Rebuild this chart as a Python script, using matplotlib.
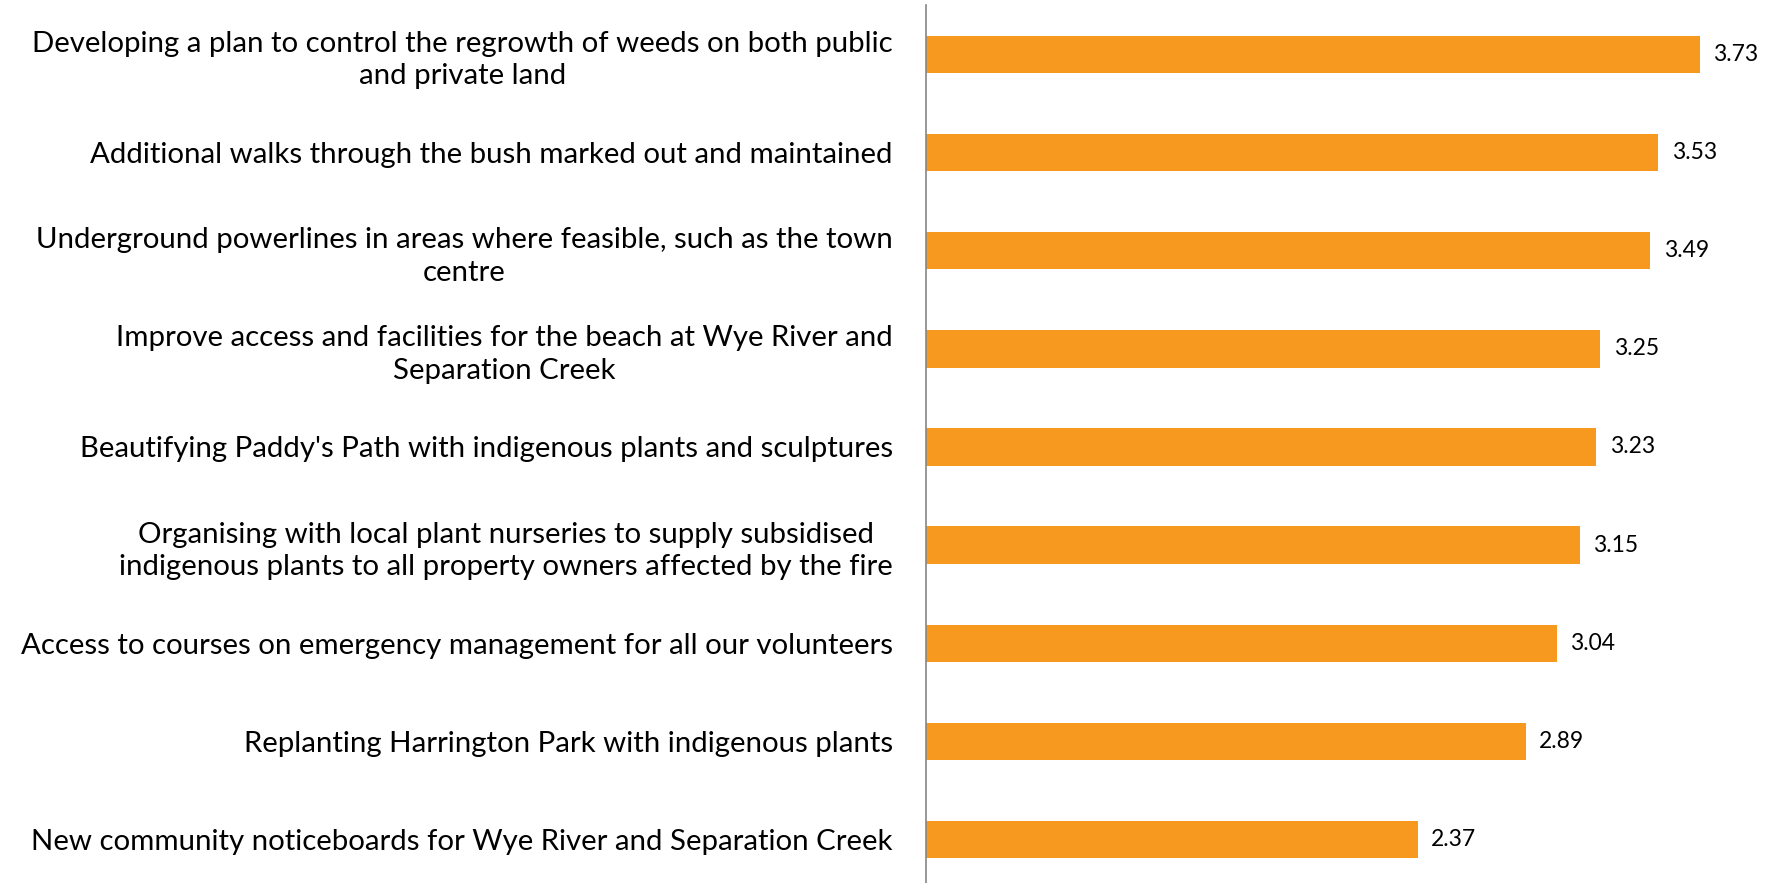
import matplotlib
matplotlib.use("Agg")
import matplotlib.pyplot as plt

plt.rcParams['font.family'] = ['Lato', 'DejaVu Sans']

labels = [
    "Developing a plan to control the regrowth of weeds on both public\nand private land",
    "Additional walks through the bush marked out and maintained",
    "Underground powerlines in areas where feasible, such as the town\ncentre",
    "Improve access and facilities for the beach at Wye River and\nSeparation Creek",
    "Beautifying Paddy's Path with indigenous plants and sculptures",
    "Organising with local plant nurseries to supply subsidised\nindigenous plants to all property owners affected by the fire",
    "Access to courses on emergency management for all our volunteers",
    "Replanting Harrington Park with indigenous plants",
    "New community noticeboards for Wye River and Separation Creek",
]
scores = [3.73, 3.53, 3.49, 3.25, 3.23, 3.15, 3.04, 2.89, 2.37]

fig = plt.figure(figsize=(17.8, 8.83), dpi=100)
ax = fig.add_axes([926 / 1780, -5.5 / 883, 854 / 1780, 1.0])

pos = list(range(len(scores)))
ax.barh(pos, scores, height=0.38, color="#F7991F")
for p, v in zip(pos, scores):
    ax.text(v + 0.065, p, f"{v:.2f}", va="center", ha="left", fontsize=16.5, color="#000000")

ax.set_xlim(0, 854 / 207.5)
ax.set_ylim(len(scores) - 0.5, -0.5)
ax.set_yticks(pos)
ax.set_yticklabels(labels, fontsize=21.2, ha="right", multialignment="center", linespacing=1.3)
ax.tick_params(axis="y", length=0, pad=33 * 72 / 100)
ax.set_xticks([])
for s in ["top", "right", "bottom"]:
    ax.spines[s].set_visible(False)
ax.spines["left"].set_color("#868686")
ax.spines["left"].set_linewidth(1.2)

fig.savefig("out.png", dpi=100)
